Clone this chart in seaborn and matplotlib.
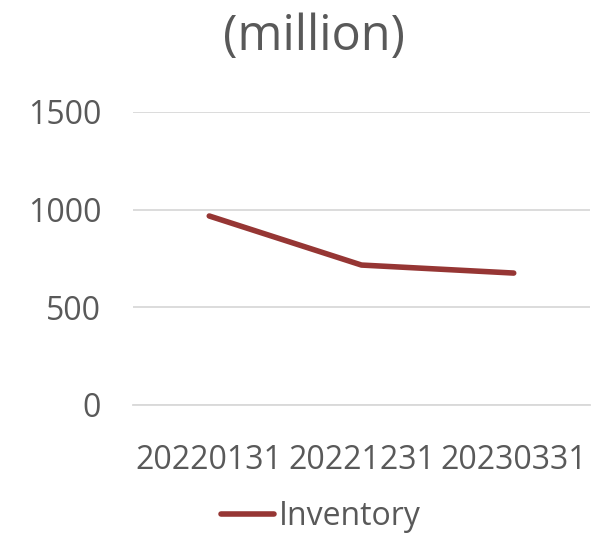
import matplotlib
matplotlib.use("Agg")
import matplotlib.pyplot as plt
import seaborn as sns
import pandas as pd

# chart data
dates = ["20220131", "20221231", "20230331"]
inventory = [967, 716, 675]
yticks = [0, 500, 1000, 1500]

df = pd.DataFrame({"date": dates, "Inventory": inventory})

sns.set_style("white")
plt.rcParams['font.family'] = ['Open Sans', 'DejaVu Sans']
text_color = "#595959"

fig = plt.figure(figsize=(5.97, 5.35), dpi=100)
ax = fig.add_axes([0.223, 0.243, 0.765, 0.548])

x = list(range(len(dates)))
sns.lineplot(x=x, y=df["Inventory"], ax=ax, color="#963634", linewidth=4,
             solid_capstyle="round", label="Inventory", legend=False)

ax.set_xlim(-0.5, len(dates) - 0.5)
ax.set_ylim(0, 1500)
ax.set_yticks(yticks)
ax.set_xticks(x)
ax.set_xticklabels(dates)
ax.yaxis.grid(True, color="#d9d9d9", linewidth=1.3)
ax.set_axisbelow(True)
for s in ["left", "right", "top"]:
    ax.spines[s].set_visible(False)
ax.spines["bottom"].set_color("#d9d9d9")
ax.spines["bottom"].set_linewidth(1.3)
ax.tick_params(axis="both", length=0, labelsize=23, colors=text_color)
ax.tick_params(axis="x", pad=28)
ax.tick_params(axis="y", pad=23)
ax.set_xlabel("")
ax.set_ylabel("")

fig.text(0.526, 0.93, "(million)", ha="center", va="center",
         fontsize=35, color=text_color)

leg = fig.legend(loc="center", bbox_to_anchor=(0.538, 0.034), frameon=False,
                 fontsize=23, handlelength=1.65, handletextpad=0.15,
                 labelcolor=text_color)

fig.savefig("out.png", dpi=100)
